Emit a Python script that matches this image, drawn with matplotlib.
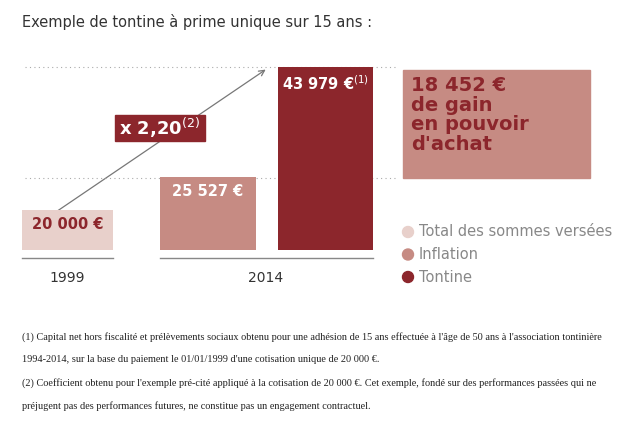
import matplotlib
matplotlib.use("Agg")
import matplotlib.pyplot as plt
from matplotlib.patches import Rectangle, Circle

W, H = 623, 424
years = ["1999", "2014"]
labels = ["Total des sommes versées", "Inflation", "Tontine"]
values = [20000, 25527, 43979]
value_texts = ["20 000 €", "25 527 €", "43 979 €"]
colors = ["#e8d0cb", "#c68b83", "#8c262c"]
gain_text = "18 452 €\nde gain\nen pouvoir\nd'achat"
multiplier = "x 2,20"

plt.rcParams["font.family"] = ["Liberation Sans Narrow", "DejaVu Sans"]

fig = plt.figure(figsize=(W / 100, H / 100), dpi=100)
bg = fig.add_axes([0, 0, 1, 1])
bg.set_xlim(0, W)
bg.set_ylim(H, 0)
bg.axis("off")

# bar axes: pixel x, value y (baseline offset as in the original design)
ax = fig.add_axes([0, (H - 250) / H, 1, 183 / H])
ax.set_xlim(0, W)
ax.set_ylim(13293, 43979)
ax.axis("off")
bar_x = [22, 160, 278]
bar_w = [91, 96, 95]
shift = matplotlib.transforms.ScaledTranslation(0, -0.07, fig.dpi_scale_trans)
for x, w, v, c, t, tc in zip(bar_x, bar_w, values, colors, value_texts,
                             ["#8c262c", "white", "white"]):
    ax.bar(x, v - 13293, bottom=13293, width=w, align="edge", color=c)
    if v == max(values):
        t = t + "$^{(1)}$"
    ax.text(x + w / 2, v, t, transform=ax.transData + shift, ha="center", va="top",
            fontsize=10.5, color=tc, fontweight="bold")

bg.text(22, 22, "Exemple de tontine à prime unique sur 15 ans :", fontsize=10.5,
        color="#333333", va="center")

for y in (67, 178):
    bg.plot([25, 395], [y, y], color="#aaaaaa", lw=0.8, ls=(0, (1, 3)))
bg.plot([22, 113], [258, 258], color="#888888", lw=1)
bg.plot([160, 373], [258, 258], color="#888888", lw=1)
bg.text(67, 278, years[0], ha="center", va="center", fontsize=10, color="#333333")
bg.text(266, 278, years[1], ha="center", va="center", fontsize=10, color="#333333")

bg.annotate("", xy=(268, 68), xytext=(22, 235),
            arrowprops=dict(arrowstyle="->", color="#777777", lw=0.9), zorder=1)
bg.add_patch(Rectangle((115, 115), 90, 26, color=colors[2], zorder=3))
bg.text(160, 128, multiplier + "$^{(2)}$", ha="center", va="center", color="white",
        fontsize=13, fontweight="bold", zorder=4)

bg.add_patch(Rectangle((403, 70), 187, 108, color=colors[1]))
bg.text(411, 76, gain_text, va="top", ha="left", color=colors[2], fontsize=14,
        fontweight="bold", linespacing=1.05)

for i, (lab, c) in enumerate(zip(labels, colors)):
    y = 232 + i * 22.5
    bg.add_patch(Circle((408, y), 5.5, color=c))
    bg.text(419, y, lab, va="center", fontsize=10.5, color="#888888")

notes = [
    "(1) Capital net hors fiscalité et prélèvements sociaux obtenu pour une adhésion de 15 ans effectuée à l'âge de 50 ans à l'association tontinière",
    "1994-2014, sur la base du paiement le 01/01/1999 d'une cotisation unique de 20 000 €.",
    "(2) Coefficient obtenu pour l'exemple pré-cité appliqué à la cotisation de 20 000 €. Cet exemple, fondé sur des performances passées qui ne",
    "préjugent pas des performances futures, ne constitue pas un engagement contractuel.",
]
for i, n in enumerate(notes):
    bg.text(22, 337 + i * 23, n, fontsize=7.4, family="Liberation Serif",
            color="#222222", va="center")

fig.savefig("out.png", dpi=100)
